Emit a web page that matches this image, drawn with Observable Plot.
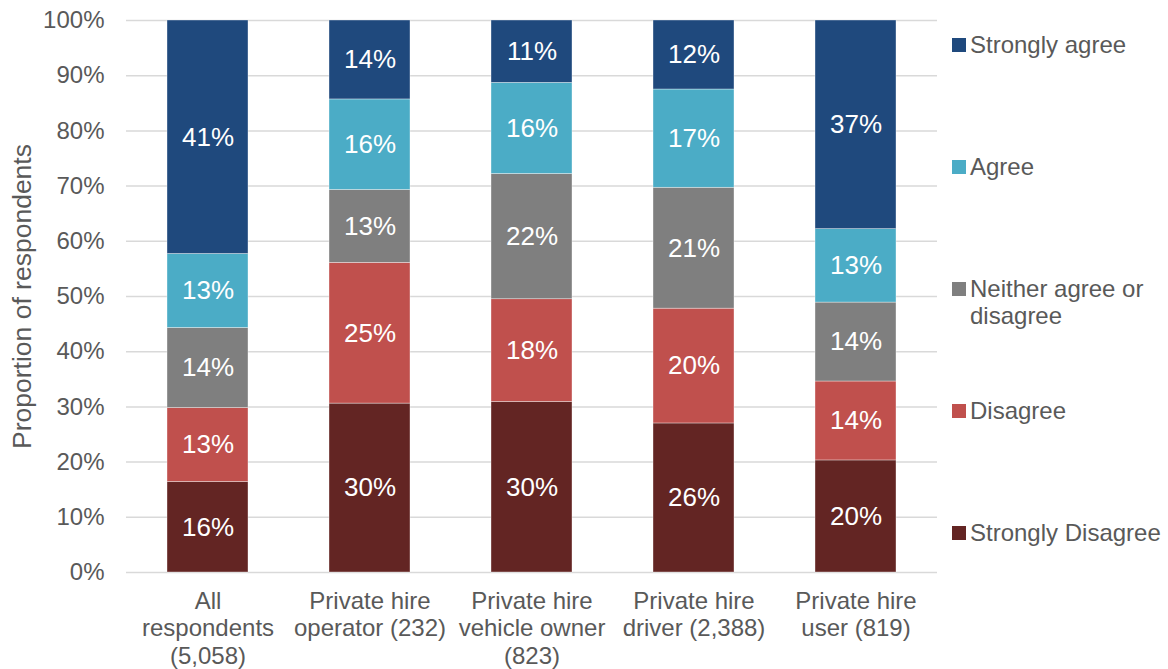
<!DOCTYPE html>
<html>
<head>
<meta charset="utf-8">
<script src="https://cdn.jsdelivr.net/npm/d3@7"></script>
<script src="https://cdn.jsdelivr.net/npm/@observablehq/plot@0.6"></script>
<style>
  html, body { margin: 0; padding: 0; background: #ffffff; }
  #wrap { position: relative; width: 1168px; height: 669px; font-family: "Liberation Sans", Arial, sans-serif; color: #595959; }
  #legend { position: absolute; left: 952px; top: 0; width: 216px; height: 669px; }
  .item { position: absolute; left: 0; display: flex; align-items: flex-start; font-size: 24px; line-height: 27px; }
  .sw { width: 14px; height: 14px; margin-top: 7px; margin-right: 4px; flex: none; }
  .lt { width: 196px; }
</style>
</head>
<body>
<div id="wrap"><div id="chart"></div><div id="legend"></div></div>
<script>
// Categories (x axis)
const categories = [
  "All\nrespondents\n(5,058)",
  "Private hire\noperator (232)",
  "Private hire\nvehicle owner\n(823)",
  "Private hire\ndriver (2,388)",
  "Private hire\nuser (819)"
];
// Responses, bottom to top of each stack
const responses = ["Strongly Disagree", "Disagree", "Neither agree or disagree", "Agree", "Strongly agree"];
const responseColors = ["#632523", "#C0504D", "#7F7F7F", "#4BACC6", "#1F497D"];

// Segment heights (% of respondents)
const stronglyDisagree = [16.4, 30.6, 30.9, 27.0, 20.3];
const disagree         = [13.4, 25.5, 18.6, 20.8, 14.3];
const neither          = [14.5, 13.2, 22.7, 21.9, 14.3];
const agree            = [13.4, 16.4, 16.5, 17.8, 13.3];
const stronglyAgree    = [42.3, 14.3, 11.3, 12.5, 37.8];

// Printed data labels (%)
const labelSD = [16, 30, 30, 26, 20];
const labelD  = [13, 25, 18, 20, 14];
const labelN  = [14, 13, 22, 21, 14];
const labelA  = [13, 16, 16, 17, 13];
const labelSA = [41, 14, 11, 12, 37];

// Y axis ticks
const yTicks = [0, 10, 20, 30, 40, 50, 60, 70, 80, 90, 100];
const yTitle = "Proportion of respondents";

const seriesValues = [stronglyDisagree, disagree, neither, agree, stronglyAgree];
const seriesLabels = [labelSD, labelD, labelN, labelA, labelSA];

const rows = categories.flatMap((c, i) =>
  responses.map((r, j) => ({category: c, response: r, value: seriesValues[j][i], label: seriesLabels[j][i]}))
);

const chart = Plot.plot({
  width: 1168,
  height: 669,
  marginLeft: 126,
  marginRight: 231,
  marginTop: 20,
  marginBottom: 97,
  style: {fontFamily: "'Liberation Sans', Arial, sans-serif", fontSize: "24px", color: "#595959", background: "#ffffff", overflow: "visible"},
  x: {domain: categories, paddingInner: 0.5, paddingOuter: 0.25, label: null},
  y: {domain: [0, 100], label: null},
  color: {domain: responses, range: responseColors},
  marks: [
    Plot.gridY(yTicks, {stroke: "#d9d9d9", strokeOpacity: 1, strokeWidth: 1.5}),
    Plot.barY(rows, {x: "category", y: "value", fill: "response", stroke: "#ffffff", strokeOpacity: 0.6, strokeWidth: 0.6}),
    Plot.text(rows, Plot.stackY({x: "category", y: "value", z: "response", text: d => d.label + "%", fill: "#ffffff", fontSize: 26})),
    Plot.axisY(yTicks, {tickSize: 0, tickPadding: 22, tickFormat: d => d + "%", label: yTitle, labelAnchor: "center", labelArrow: false, labelOffset: 114}),
    Plot.axisX({tickSize: 0, tickPadding: 17, lineHeight: 1.14, label: null})
  ]
});
document.getElementById("chart").appendChild(chart);
// enlarge the y-axis title a little, as in the reference
const yLabel = chart.querySelector('g[aria-label="y-axis label"]');
if (yLabel) yLabel.setAttribute("font-size", "26.5");

// Legend (top item = top of stack)
const legend = d3.select("#legend");
const legendOrder = responses.map((r, j) => ({r, c: responseColors[j]})).reverse();
legendOrder.forEach((d, i) => {
  const item = legend.append("div").attr("class", "item").style("top", (31 + i * 122) + "px");
  item.append("div").attr("class", "sw").style("background", d.c);
  item.append("div").attr("class", "lt").text(d.r);
});
</script>
</body>
</html>
